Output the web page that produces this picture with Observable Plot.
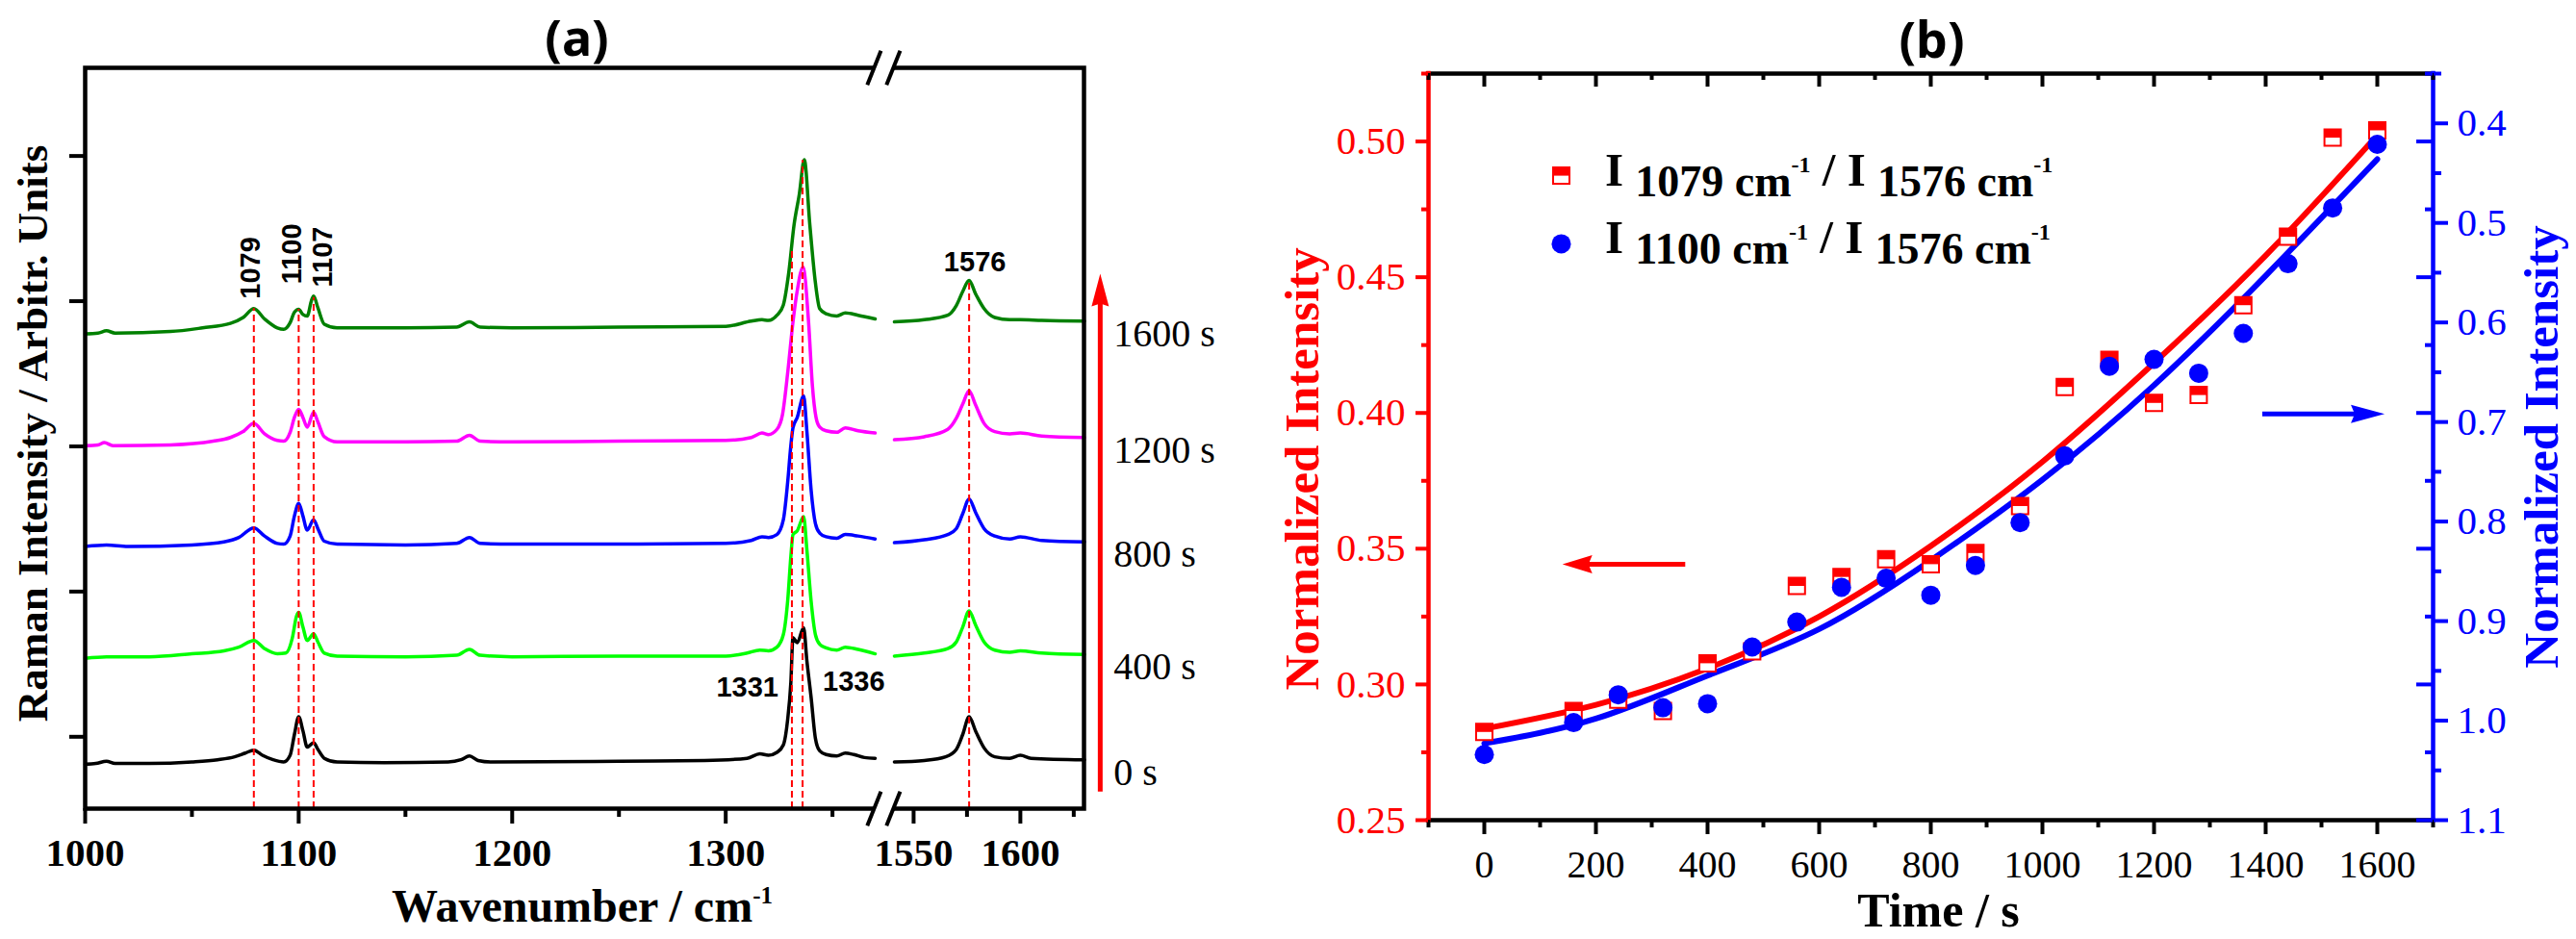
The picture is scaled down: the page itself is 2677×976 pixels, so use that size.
<!DOCTYPE html>
<html><head><meta charset="utf-8">
<script src="https://cdn.jsdelivr.net/npm/d3@7"></script>
<script src="https://cdn.jsdelivr.net/npm/@observablehq/plot@0.6"></script>
<style>
body{margin:0;background:#fff;}
#wrap{position:relative;width:2677px;height:976px;overflow:hidden;background:#fff;}
#pa{position:absolute;left:0;top:0;}
#pb{position:absolute;left:1300px;top:0;}
svg{overflow:visible;}
.rich{position:absolute;white-space:nowrap;font-family:"Liberation Serif",serif;font-weight:bold;color:#000;}
.sb{position:relative;}
.sp{position:relative;}
</style></head><body>
<div id="wrap"><div id="pa"></div><div id="pb"></div></div>
<script>
// ---------------- DATA: panel (a) Raman spectra [wavenumber, intensity (a.u., offset)] ----------------
const spectrum0s = [[1000,6.0],[1005,6.1],[1010,6.4],[1014,6.1],[1030,6.1],[1050,6.3],[1062,6.6],[1070,7.0],[1075,7.5],[1079,7.9],[1083,7.2],[1088,6.6],[1093,6.3],[1096,7.2],[1098,10.0],[1100,12.4],[1102,10.5],[1104,8.3],[1107,8.9],[1109,8.0],[1112,6.8],[1118,6.3],[1140,6.2],[1170,6.3],[1176,6.6],[1180,7.1],[1184,6.5],[1190,6.3],[1250,6.4],[1290,6.5],[1310,6.8],[1316,7.4],[1320,7.2],[1324,7.6],[1327,8.6],[1329,12.0],[1330.5,17.0],[1331.5,23.1],[1333.5,22.4],[1336.5,24.4],[1338,20.0],[1340,15.0],[1342,9.5],[1344,7.8],[1347,7.3],[1352,7.1],[1356,7.5],[1360,7.3],[1365,6.9],[1370,6.8],
  [1541,6.3],[1555,6.5],[1565,7.0],[1570,8.0],[1573,10.0],[1576,12.4],[1579,10.5],[1583,8.2],[1588,7.0],[1595,6.8],[1600,7.2],[1605,6.8],[1630,6.6]];
const spectrum400s = [[1000,20.3],[1010,20.5],[1030,20.5],[1050,20.9],[1065,21.3],[1072,21.8],[1079,22.7],[1084,21.6],[1090,20.9],[1094,21.0],[1097,23.0],[1099,26.0],[1100,26.5],[1102,24.5],[1104,22.7],[1107,23.6],[1109,22.5],[1112,21.0],[1118,20.6],[1150,20.5],[1174,20.7],[1180,21.5],[1185,20.7],[1200,20.5],[1250,20.6],[1300,20.6],[1310,21.0],[1316,21.4],[1320,21.3],[1324,21.8],[1327,23.5],[1329,28.0],[1330.5,34.0],[1331.5,37.0],[1333.5,37.5],[1336.5,39.4],[1338,35.0],[1340,28.0],[1342,23.5],[1344,22.2],[1347,21.7],[1352,21.4],[1356,21.8],[1362,21.5],[1370,20.9],
  [1541,20.6],[1555,21.0],[1566,21.6],[1570,22.5],[1573,24.5],[1576,26.7],[1579,24.8],[1583,22.5],[1588,21.4],[1595,21.1],[1600,21.3],[1610,21.0],[1630,20.8]];
const spectrum800s = [[1000,35.4],[1010,35.6],[1020,35.4],[1050,35.6],[1065,36.0],[1072,36.6],[1079,37.9],[1084,36.8],[1090,35.8],[1093,35.7],[1096,36.8],[1098,39.5],[1100,41.2],[1102,39.5],[1104,37.6],[1107,39.0],[1109,37.8],[1112,36.1],[1118,35.7],[1150,35.6],[1174,35.8],[1180,36.6],[1185,35.8],[1200,35.7],[1250,35.7],[1300,35.8],[1312,36.2],[1317,36.7],[1320,36.6],[1324,37.0],[1327,39.0],[1329,44.0],[1330.5,49.0],[1331.5,51.4],[1333.5,52.8],[1336.5,55.7],[1338,51.0],[1340,43.0],[1342,38.5],[1344,37.2],[1347,36.7],[1352,36.5],[1356,37.0],[1362,36.8],[1370,36.4],
  [1541,35.9],[1555,36.3],[1566,37.0],[1570,37.8],[1573,39.8],[1576,41.8],[1579,40.0],[1583,37.8],[1588,36.8],[1595,36.4],[1600,36.7],[1610,36.2],[1630,36.0]];
const spectrum1200s = [[1000,49.0],[1006,49.1],[1009,49.4],[1013,49.0],[1040,49.1],[1060,49.6],[1068,50.1],[1074,50.9],[1079,52.0],[1084,50.6],[1090,49.7],[1093,49.6],[1096,50.8],[1098,52.8],[1100,53.9],[1102,52.8],[1104,51.5],[1107,53.5],[1109,52.2],[1112,50.2],[1118,49.5],[1150,49.5],[1174,49.6],[1180,50.4],[1185,49.6],[1200,49.5],[1250,49.6],[1300,49.7],[1312,50.1],[1317,50.7],[1320,50.5],[1324,51.2],[1326.6,53.2],[1329.2,59.3],[1331.5,65.7],[1333.6,70.1],[1336.2,73.1],[1338.8,65.7],[1340.6,57.1],[1342.3,52.8],[1344,51.5],[1347,51.0],[1352,50.8],[1356,51.4],[1362,51.0],[1370,50.7],
  [1541,49.8],[1555,50.2],[1566,51.2],[1570,52.7],[1573,54.6],[1576,56.4],[1579,54.5],[1583,52.0],[1588,50.9],[1595,50.6],[1600,50.7],[1610,50.3],[1630,50.1]];
const spectrum1600s = [[1000,64.1],[1006,64.2],[1010,64.5],[1014,64.2],[1040,64.4],[1055,64.9],[1068,65.5],[1074,66.3],[1079,67.5],[1084,66.1],[1090,64.9],[1093,64.7],[1096,65.6],[1098,67.0],[1100,67.4],[1102,66.7],[1104,66.5],[1106,68.6],[1107,69.2],[1109,67.6],[1112,65.4],[1118,64.9],[1150,64.9],[1174,65.0],[1180,65.7],[1185,65.0],[1200,64.9],[1250,65.0],[1300,65.1],[1312,65.8],[1317,66.0],[1320,65.9],[1324,66.6],[1327,68.0],[1329.5,72.3],[1332,78.8],[1334.5,83.0],[1336.8,87.6],[1339.4,78.8],[1342,71.0],[1344,67.5],[1347,66.8],[1352,66.5],[1356,66.9],[1362,66.6],[1370,66.1],
  [1541,65.7],[1555,66.0],[1566,66.6],[1570,67.9],[1573,69.8],[1576,71.3],[1579,69.5],[1583,67.5],[1588,66.3],[1595,66.0],[1600,66.0],[1610,65.9],[1630,65.8]];
const timeLabels = ["0 s", "400 s", "800 s", "1200 s", "1600 s"];
const peakLines = [1079, 1100, 1107, 1331, 1336, 1576];
const peakLineTops = [67.5, 67.4, 69.0, 75.7, 87.5, 71.3];
const xTickLabelsA = [1000, 1100, 1200, 1300, 1550, 1600];
const xMinorTicksA = [1050, 1150, 1250, 1350, 1575, 1625];
const yTicksA = [9.7, 29.3, 48.9, 68.5, 88.1];

// ---------------- DATA: panel (b) intensity ratios vs time ----------------
const times = [0,160,240,320,400,480,560,640,720,800,880,960,1040,1120,1200,1280,1360,1440,1520,1600];
const ratio1079 = [0.2825,0.2902,0.2944,0.2902,0.3078,0.3122,0.3363,0.3396,0.3461,0.3443,0.3484,0.3657,0.4096,0.4196,0.4037,0.4066,0.4397,0.4649,0.5014,0.5041];
const ratio1100 = [1.034,1.002,0.974,0.987,0.983,0.926,0.901,0.866,0.857,0.874,0.844,0.801,0.734,0.644,0.637,0.651,0.611,0.541,0.485,0.421];
const fitTimes = [0,200,400,600,800,1000,1200,1400,1600];
const fit1079 = [0.2837,0.2925,0.3059,0.3250,0.3510,0.3820,0.4184,0.4580,0.5023];
const fit1100 = [1.0228,0.998,0.9547,0.908,0.839,0.758,0.663,0.553,0.436];
const xTicksB = [0,200,400,600,800,1000,1200,1400,1600];
const xMinorTicksB = [-100,100,300,500,700,900,1100,1300,1500,1700];
const redTicks = [0.25,0.30,0.35,0.40,0.45,0.50];
const redMinorTicks = [0.275,0.325,0.375,0.425,0.475,0.525];
const blueTicks = [0.4,0.5,0.6,0.7,0.8,0.9,1.0,1.1];
const blueMinorTicks = [0.35,0.45,0.55,0.65,0.75,0.85,0.95,1.05];
const legendRows = [[1079, 1576], [1100, 1576]];

// ---------------- styles / helpers ----------------
const RED = "#ff0000", BLUE = "#0000ff";
const spectraColors = ["#000000", "#00ff00", "#0000ff", "#ff00ff", "#008000"];
const spectra = [spectrum0s, spectrum400s, spectrum800s, spectrum1200s, spectrum1600s];
const GAP = 162; // broken-axis offset in cm-1
const disp = w => w > 1450 ? w - GAP : w;
const undisp = d => d > 1375 ? d + GAP : d;
const SERIF = "Liberation Serif";

const arrowHead = (len, half, notch) => ({
  draw(ctx) { ctx.moveTo(0, 0); ctx.lineTo(half, len); ctx.lineTo(0, len - notch); ctx.lineTo(-half, len); ctx.closePath(); }
});
const halfTop = {
  draw(ctx, size) { const s = Math.sqrt(size) / 2; ctx.moveTo(-s, -s); ctx.lineTo(s, -s); ctx.lineTo(s, 0); ctx.lineTo(-s, 0); ctx.closePath(); }
};

// ---------------- Panel (a) ----------------
const peakLabelMarks = [
  {p: 1079, y: 68.8, dx: -3}, {p: 1100, y: 70.8, dx: -6.4}, {p: 1107, y: 70.4, dx: 9.5}
].map(o => Plot.text([String(o.p)], {x: disp(o.p), y: o.y, dx: o.dx, rotate: -90, textAnchor: "start", lineAnchor: "middle",
  fontFamily: "Liberation Sans", fontWeight: "bold", fontSize: 29, fill: "#000"}));

const plotA = Plot.plot({
  width: 1300, height: 976,
  marginLeft: 88, marginRight: 174, marginTop: 70, marginBottom: 136,
  x: {domain: [1000, 1467.8], axis: null},
  y: {domain: [0, 100], axis: null},
  style: {fontFamily: SERIF, fontSize: "40px", background: "transparent", overflow: "visible"},
  marks: [
    ...spectra.map((s, i) => Plot.line(s, {x: d => disp(d[0]), y: d => d[1], z: d => d[0] > 1450, stroke: spectraColors[i], strokeWidth: 3.5, curve: "monotone-x"})),
    Plot.ruleX(peakLines, {x: d => disp(d), y1: 0, y2: (d, i) => peakLineTops[i], stroke: RED, strokeWidth: 2, strokeDasharray: "7,4"}),
    Plot.frame({stroke: "#000", strokeWidth: 4.5}),
    Plot.axisX(xTickLabelsA.map(disp), {anchor: "bottom", tickSize: 16, tickPadding: 14, strokeWidth: 4, tickFormat: d => String(undisp(d)), fontSize: 41, fontWeight: "bold", fontFamily: SERIF, label: null}),
    Plot.axisX(xMinorTicksA.map(disp), {anchor: "bottom", tickSize: 9, strokeWidth: 4, tickFormat: () => "", label: null}),
    Plot.axisY(yTicksA, {anchor: "left", tickSize: 16, strokeWidth: 4, tickFormat: () => "", label: null}),
    // axis break marks
    Plot.rect([0, 100], {x1: 1369.5, x2: 1378.5, y1: d => d - 0.9, y2: d => d + 0.9, fill: "white"}),
    Plot.link([0, 100].flatMap(y => [1369.5, 1378.5].map(c => ({c, y}))), {x1: d => d.c - 3.2, y1: d => d.y - 2.3, x2: d => d.c + 3.2, y2: d => d.y + 2.3, stroke: "#000", strokeWidth: 4}),
    // peak labels
    ...peakLabelMarks,
    Plot.text(["1576"], {x: disp(1576), y: 73.8, dx: 6, textAnchor: "middle", lineAnchor: "middle", fontFamily: "Liberation Sans", fontWeight: "bold", fontSize: 29}),
    Plot.text(["1331"], {x: disp(1331), y: 16.4, dx: -14, textAnchor: "end", lineAnchor: "middle", fontFamily: "Liberation Sans", fontWeight: "bold", fontSize: 29}),
    Plot.text(["1336"], {x: disp(1336), y: 17.1, dx: 21, textAnchor: "start", lineAnchor: "middle", fontFamily: "Liberation Sans", fontWeight: "bold", fontSize: 29}),
    // time arrow + labels
    Plot.link([0], {x1: 1475.4, x2: 1475.4, y1: 2.3, y2: 68.5, stroke: RED, strokeWidth: 5}),
    Plot.dot([0], {x: 1475.4, y: 72.2, symbol: arrowHead(34, 9, 3), fill: RED, stroke: "none"}),
    Plot.text(timeLabels, {x: 1481.7, y: (d, i) => spectra[i][spectra[i].length - 1][1] - 1.7, textAnchor: "start", lineAnchor: "middle", fontFamily: SERIF, fontSize: 40}),
    // titles
    Plot.text(["Raman Intensity / Arbitr. Units"], {x: 982.4, y: 50.65, rotate: -90, textAnchor: "middle", lineAnchor: "bottom", fontFamily: SERIF, fontWeight: "bold", fontSize: 45}),
    Plot.text(["(a)"], {x: 1230.3, y: 101.6, textAnchor: "middle", lineAnchor: "bottom", fontFamily: "Noto Sans", fontWeight: "bold", fontSize: 52})
  ]
});
document.getElementById("pa").append(plotA);

// ---------------- Panel (b) ----------------
const toRed = d3.scaleLinear().domain([0.35, 1.1]).range([0.525, 0.25]);
const toBlue = toRed.invert;

const plotB = Plot.plot({
  width: 1377, height: 976,
  marginLeft: 184, marginRight: 149, marginTop: 76, marginBottom: 124,
  x: {domain: [-100, 1700], axis: null},
  y: {domain: [0.25, 0.525], axis: null},
  style: {fontFamily: SERIF, fontSize: "40px", background: "transparent", overflow: "visible"},
  marks: [
    Plot.line(fitTimes, {x: d => d, y: (d, i) => fit1079[i], stroke: RED, strokeWidth: 6, curve: "natural"}),
    Plot.line(fitTimes, {x: d => d, y: (d, i) => toRed(fit1100[i]), stroke: BLUE, strokeWidth: 6, curve: "natural"}),
    Plot.dot(times, {x: d => d, y: (d, i) => ratio1079[i], symbol: "square", r: 9.6, fill: "white", stroke: RED, strokeWidth: 2}),
    Plot.dot(times, {x: d => d, y: (d, i) => ratio1079[i], symbol: halfTop, r: 9.6, fill: RED, stroke: "none"}),
    Plot.dot(times, {x: d => d, y: (d, i) => toRed(ratio1100[i]), r: 10, fill: BLUE, stroke: "none"}),
    // axis lines
    Plot.ruleY([0.25, 0.525], {stroke: "#000", strokeWidth: 4.5, strokeLinecap: "square"}),
    Plot.ruleX([-100], {stroke: RED, strokeWidth: 4.5, strokeLinecap: "square"}),
    Plot.ruleX([1700], {stroke: BLUE, strokeWidth: 4.5, strokeLinecap: "square"}),
    // bottom ticks
    Plot.axisX(xTicksB, {anchor: "bottom", tickSize: 15, tickPadding: 16, strokeWidth: 4, tickFormat: d => String(d), fontSize: 40, fontFamily: SERIF, label: null}),
    Plot.axisX(xMinorTicksB, {anchor: "bottom", tickSize: 8, strokeWidth: 4, tickFormat: () => "", label: null}),
    // top inward ticks
    Plot.ruleX(xTicksB, {x: d => d, y1: 0.525, y2: 0.525, insetBottom: -14, stroke: "#000", strokeWidth: 4}),
    Plot.ruleX(xMinorTicksB, {x: d => d, y1: 0.525, y2: 0.525, insetBottom: -7, stroke: "#000", strokeWidth: 4}),
    // left red axis
    Plot.axisY(redTicks, {anchor: "left", tickSize: 13, tickPadding: 11, strokeWidth: 4, color: RED, tickFormat: d3.format(".2f"), fontSize: 41, fontFamily: SERIF, label: null}),
    Plot.axisY(redMinorTicks, {anchor: "left", tickSize: 7, strokeWidth: 4, color: RED, tickFormat: () => "", label: null}),
    // right blue axis
    Plot.axisY(blueTicks.map(toRed), {anchor: "right", tickSize: 15, tickPadding: 10, strokeWidth: 4, color: BLUE, tickFormat: d => d3.format(".1f")(toBlue(d)), fontSize: 41, fontFamily: SERIF, label: null}),
    Plot.axisY(blueMinorTicks.map(toRed), {anchor: "right", tickSize: 8, strokeWidth: 4, color: BLUE, tickFormat: () => "", label: null}),
    Plot.ruleY(redTicks, {y: d => d, x1: 1700, x2: 1700, insetLeft: -17, stroke: BLUE, strokeWidth: 4}),
    Plot.ruleY(redMinorTicks, {y: d => d, x1: 1700, x2: 1700, insetLeft: -8, stroke: BLUE, strokeWidth: 4}),
    // direction arrows
    Plot.link([0], {x1: 360, x2: 185, y1: 0.3443, y2: 0.3443, stroke: RED, strokeWidth: 5}),
    Plot.dot([0], {x: 140, y: 0.3443, symbol: arrowHead(31, 9.5, 4), rotate: -90, fill: RED, stroke: "none"}),
    Plot.link([0], {x1: 1394, x2: 1565, y1: toRed(0.692), y2: toRed(0.692), stroke: BLUE, strokeWidth: 5}),
    Plot.dot([0], {x: 1613, y: toRed(0.692), symbol: arrowHead(35, 9.5, 4), rotate: 90, fill: BLUE, stroke: "none"}),
    // legend markers
    Plot.dot([0], {x: 137.9, y: 0.4874, symbol: "square", r: 9.6, fill: "white", stroke: RED, strokeWidth: 2}),
    Plot.dot([0], {x: 137.9, y: 0.4874, symbol: halfTop, r: 9.6, fill: RED, stroke: "none"}),
    Plot.dot([0], {x: 137.9, y: 0.4623, r: 10, fill: BLUE, stroke: "none"}),
    // titles
    Plot.text(["Normalized Intensity"], {x: -296.6, y: 0.3794, rotate: -90, textAnchor: "middle", lineAnchor: "bottom", fill: RED, fontFamily: SERIF, fontWeight: "bold", fontSize: 51}),
    Plot.text(["Normalized Intensity"], {x: 1924.1, y: 0.3875, rotate: -90, textAnchor: "middle", lineAnchor: "bottom", fill: BLUE, fontFamily: SERIF, fontWeight: "bold", fontSize: 51}),
    Plot.text(["Time / s"], {x: 813.8, y: 0.2107, textAnchor: "middle", lineAnchor: "bottom", fontFamily: SERIF, fontWeight: "bold", fontSize: 50}),
    Plot.text(["(b)"], {x: 801.7, y: 0.5310, textAnchor: "middle", lineAnchor: "bottom", fontFamily: "Noto Sans", fontWeight: "bold", fontSize: 52})
  ]
});
document.getElementById("pb").append(plotB);

// ---------------- rich-text labels (sub/superscripts) ----------------
const wrap = document.getElementById("wrap");
function addRich(html, style) {
  const div = document.createElement("div");
  div.className = "rich";
  Object.assign(div.style, style);
  div.innerHTML = html;
  wrap.append(div);
}
legendRows.forEach((row, i) => {
  const top = [152, 222][i];
  const sub = v => `<span class="sb" style="font-size:46px;top:11px">${v} cm</span><span class="sp" style="font-size:24px;top:-14px">-1</span>`;
  addRich(`I ${sub(row[0])} / I ${sub(row[1])}`,
    {left: "1668px", top: top + "px", fontSize: "49px", lineHeight: "49px"});
});
addRich(`Wavenumber / cm<span class="sp" style="font-size:25px;top:-19px">-1</span>`,
  {left: "605px", top: "918px", fontSize: "48px", lineHeight: "48px", transform: "translateX(-50%)"});
</script>
</body></html>
